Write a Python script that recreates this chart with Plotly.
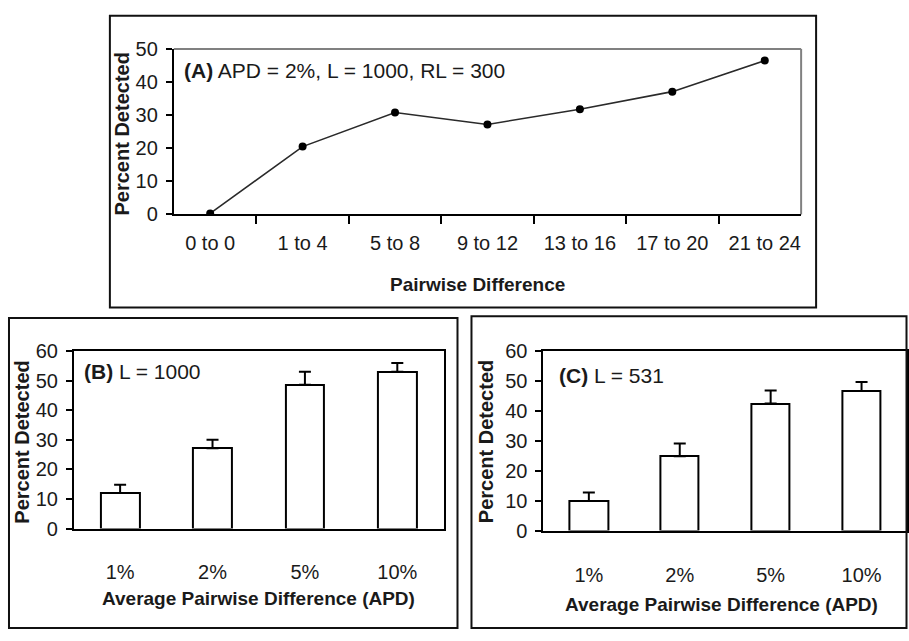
import plotly.graph_objects as go

W, H = 909, 641

# ---------------- data ----------------
pairwise_bins = ["0 to 0", "1 to 4", "5 to 8", "9 to 12", "13 to 16", "17 to 20", "21 to 24"]
pct_detected_a = [0.3, 20.5, 30.8, 27.2, 31.8, 37.1, 46.5]

apd_levels = ["1%", "2%", "5%", "10%"]
pct_detected_b = [12.0, 27.1, 48.6, 53.0]
err_b = [2.8, 2.9, 4.4, 2.9]
pct_detected_c = [9.9, 24.8, 42.4, 46.6]
err_c = [2.8, 4.3, 4.4, 3.0]

FONT = "Liberation Sans, Arial, sans-serif"
TXT = "#1a1a1a"


def px(x):
    return x / W


def py(y):
    return 1 - y / H


fig = go.Figure()

# Panel A: line with markers
fig.add_trace(go.Scatter(
    x=pairwise_bins, y=pct_detected_a, mode="lines+markers",
    line=dict(color="#2a2a2a", width=1.6),
    marker=dict(color="black", size=8),
    xaxis="x", yaxis="y", showlegend=False,
))

# Panel B: bars
fig.add_trace(go.Bar(
    x=apd_levels, y=pct_detected_b, width=0.42,
    marker=dict(color="white", line=dict(color="black", width=2)),
    error_y=dict(type="data", array=err_b, arrayminus=[0] * len(err_b), symmetric=False,
                 color="black", thickness=2, width=6),
    xaxis="x2", yaxis="y2", showlegend=False,
))

# Panel C: bars
fig.add_trace(go.Bar(
    x=apd_levels, y=pct_detected_c, width=0.42,
    marker=dict(color="white", line=dict(color="black", width=2)),
    error_y=dict(type="data", array=err_c, arrayminus=[0] * len(err_c), symmetric=False,
                 color="black", thickness=2, width=6),
    xaxis="x3", yaxis="y3", showlegend=False,
))

tickfont = dict(family=FONT, size=20, color=TXT)

xcommon = dict(type="category", showline=True, linecolor="black", linewidth=2,
               showgrid=False, zeroline=False, tickfont=tickfont, fixedrange=True)
ycommon = dict(showline=True, linecolor="black", linewidth=2, showgrid=False,
               zeroline=False, ticks="outside", ticklen=6, tickwidth=2, tickcolor="black",
               tickfont=tickfont, ticklabelstandoff=4, fixedrange=True)

fig.update_layout(
    width=W, height=H,
    margin=dict(l=0, r=0, t=0, b=0),
    paper_bgcolor="white", plot_bgcolor="white",
    font=dict(family=FONT, color=TXT),
    bargap=0,
    xaxis=dict(**xcommon, domain=[px(174), px(802)], anchor="y",
               ticks="outside", tickson="boundaries", ticklen=8, tickwidth=2,
               tickcolor="black", ticklabelstandoff=10),
    yaxis=dict(**ycommon, domain=[py(210.7), py(39.3)], anchor="x",
               range=[0, 50], tickvals=[0, 10, 20, 30, 40, 50]),
    xaxis2=dict(**xcommon, domain=[px(74), px(444)], anchor="y2", ticks="",
                mirror=True, ticklabelstandoff=24),
    yaxis2=dict(**ycommon, domain=[py(536), py(352)], anchor="x2", mirror=True,
                range=[0, 60], tickvals=[0, 10, 20, 30, 40, 50, 60]),
    xaxis3=dict(**xcommon, domain=[px(544), px(908)], anchor="y3", ticks="",
                mirror=True, ticklabelstandoff=25),
    yaxis3=dict(**ycommon, domain=[py(538), py(352)], anchor="x3", mirror=True,
                range=[0, 60], tickvals=[0, 10, 20, 30, 40, 50, 60]),
)

shapes = []
# Outer frames
for (x0, y0, x1, y1) in [(110, 5, 817, 307), (9, 318, 458, 639), (472, 316, 907.5, 639)]:
    shapes.append(dict(type="rect", xref="paper", yref="paper",
                       x0=px(x0), x1=px(x1), y0=py(y1), y1=py(y0),
                       line=dict(color="#111111", width=2), fillcolor="rgba(0,0,0,0)",
                       layer="above"))
# Gray top/right border of plot A
shapes.append(dict(type="line", xref="paper", yref="paper", x0=px(174), x1=px(802),
                   y0=py(39.3), y1=py(39.3), line=dict(color="#808080", width=2), layer="below"))
shapes.append(dict(type="line", xref="paper", yref="paper", x0=px(802), x1=px(802),
                   y0=py(39.3), y1=py(210.7), line=dict(color="#808080", width=2), layer="below"))
fig.update_layout(shapes=shapes)

annotations = []


def ann(text, x, y, size, bold=False, angle=0, xanchor="center"):
    t = f"<b>{text}</b>" if bold else text
    annotations.append(dict(text=t, x=px(x), y=py(y), xref="paper", yref="paper",
                            showarrow=False, textangle=angle, xanchor=xanchor,
                            yanchor="middle", font=dict(family=FONT, size=size, color=TXT)))


# Axis titles
ann("Percent Detected", 122, 127, 20, bold=True, angle=-90)
ann("Pairwise Difference", 478, 283, 19, bold=True)
ann("Percent Detected", 22, 446, 20, bold=True, angle=-90)
ann("Average Pairwise Difference (APD)", 259, 608, 19, bold=True)
ann("Percent Detected", 486, 446, 20, bold=True, angle=-90)
ann("Average Pairwise Difference (APD)", 722, 615, 19, bold=True)

# Panel labels
ann("<b>(A)</b> APD = 2%, L = 1000, RL = 300", 182, 62, 21, xanchor="left")
ann("<b>(B)</b> L = 1000", 82, 373, 21, xanchor="left")
ann("<b>(C)</b> L = 531", 558, 377, 21, xanchor="left")

fig.update_layout(annotations=annotations)

fig.write_html("out.html")
